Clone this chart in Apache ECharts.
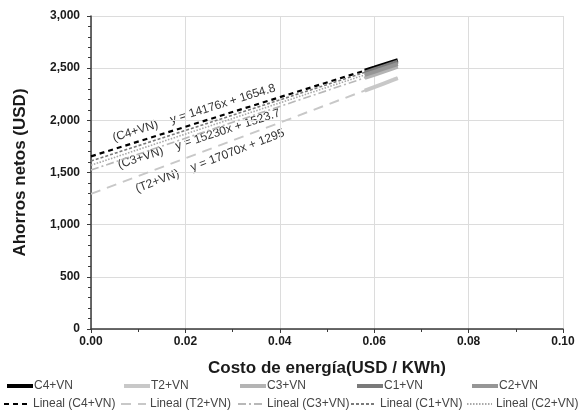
<!DOCTYPE html>
<html><head><meta charset="utf-8">
<script src="https://cdn.jsdelivr.net/npm/echarts@6/dist/echarts.min.js"></script>
<style>html,body{margin:0;padding:0;background:#fff}#c{width:588px;height:417px}</style>
</head><body><div id="c"></div>
<script>
// ---- data ----
const seriesNames = ['C4+VN', 'T2+VN', 'C3+VN', 'C1+VN', 'C2+VN'];
const xCost = [0.058, 0.060, 0.062, 0.064, 0.065];
const c4Values = [2477, 2505, 2534, 2562, 2576];
const t2Values = [2285, 2319, 2353, 2387, 2405];
const c3Values = [2407, 2437, 2468, 2498, 2514];
const c1Values = [2458, 2488, 2518, 2547, 2562];
const c2Values = [2435, 2465, 2495, 2525, 2540];
const trendX = [0, 0.065];
const trendC4 = [1654.8, 2576];
const trendT2 = [1295, 2405];
const trendC3 = [1523.7, 2514];
const trendC1 = [1610, 2562];
const trendC2 = [1570, 2540];
const trendLabels = ['(C4+VN)    y = 14176x + 1654.8', '(C3+VN)    y = 15230x + 1523.7', '(T2+VN)    y = 17070x + 1295'];
const xTicks = [0, 0.02, 0.04, 0.06, 0.08, 0.10];
const yTicks = [0, 500, 1000, 1500, 2000, 2500, 3000];

const pair = (xs, ys) => xs.map((x, i) => [x, ys[i]]);
const FONT = '"Liberation Sans", Arial, sans-serif';

const dataColors = ['#000000', '#c8c8c8', '#b4b4b4', '#7a7a7a', '#969696'];
const dataVals = [c4Values, t2Values, c3Values, c1Values, c2Values];
const trendVals = [trendC4, trendT2, trendC3, trendC1, trendC2];
const trendStyles = [
  {color: '#000000', width: 2.2, type: [5, 4]},
  {color: '#c8c8c8', width: 2, type: [10, 7]},
  {color: '#b8b8b8', width: 1.6, type: [8, 3, 2, 3]},
  {color: '#7a7a7a', width: 1.6, type: [3, 2]},
  {color: '#a8a8a8', width: 1.6, type: [1.5, 1.5]}
];

const series = [];
seriesNames.forEach((n, i) => {
  series.push({
    name: 'Lineal (' + n + ')', type: 'line', symbol: 'none', z: 2,
    data: pair(trendX, trendVals[i]), lineStyle: trendStyles[i], itemStyle: {color: trendStyles[i].color}
  });
});
seriesNames.forEach((n, i) => {
  series.push({
    name: n, type: 'line', symbol: 'none', z: 3,
    data: pair(xCost, dataVals[i]), lineStyle: {color: dataColors[i], width: 4}, itemStyle: {color: dataColors[i]}
  });
});

const legendRow1Left = [5, 122, 238, 355, 470];
const legendRow2Left = [3, 120, 237, 350, 466];
const legends = [];
seriesNames.forEach((n, i) => {
  legends.push({data: [n], left: legendRow1Left[i], top: 380, padding: 0, itemWidth: 26, itemHeight: 10, itemGap: 0,
    itemStyle: {opacity: 0}, lineStyle: {width: 4},
    textStyle: {fontFamily: FONT, fontSize: 12, color: '#454545', padding: [0, 0, 0, -4]}, selectedMode: false});
  legends.push({data: ['Lineal (' + n + ')'], left: legendRow2Left[i], top: 398, padding: 0, itemWidth: 25, itemHeight: 10, itemGap: 0,
    itemStyle: {opacity: 0},
    textStyle: {fontFamily: FONT, fontSize: 12, color: '#454545', padding: [0, 0, 0, -1]}, selectedMode: false});
});

const chart = echarts.init(document.getElementById('c'), null, {renderer: 'canvas'});
chart.setOption({
  animation: false,
  backgroundColor: '#ffffff',
  grid: {left: 91, right: 25, top: 16, bottom: 88, containLabel: false},
  legend: legends,
  xAxis: {
    type: 'value', min: xTicks[0], max: xTicks[xTicks.length - 1], interval: 0.02,
    name: 'Costo de energía(USD / KWh)', nameLocation: 'middle', nameGap: 31,
    nameTextStyle: {fontFamily: FONT, fontSize: 17, fontWeight: 'bold', color: '#1a1a1a'},
    axisLine: {lineStyle: {color: '#3a3a3a', width: 1.5}},
    axisTick: {show: true, length: 4, lineStyle: {color: '#3a3a3a'}},
    minorTick: {show: true, splitNumber: 2, length: 3, lineStyle: {color: '#3a3a3a'}},
    splitLine: {show: true, lineStyle: {color: '#dcdcdc', width: 1}},
    axisLabel: {fontFamily: FONT, fontSize: 12, fontWeight: 'bold', color: '#1a1a1a', margin: 7,
      formatter: v => v.toFixed(2)}
  },
  yAxis: {
    type: 'value', min: yTicks[0], max: yTicks[yTicks.length - 1], interval: 500,
    name: 'Ahorros netos (USD)', nameLocation: 'middle', nameGap: 62,
    nameTextStyle: {fontFamily: FONT, fontSize: 17, fontWeight: 'bold', color: '#1a1a1a'},
    axisLine: {show: true, lineStyle: {color: '#3a3a3a', width: 1.5}},
    axisTick: {show: true, length: 4, lineStyle: {color: '#3a3a3a'}},
    minorTick: {show: true, splitNumber: 5, length: 3, lineStyle: {color: '#3a3a3a'}},
    splitLine: {show: true, lineStyle: {color: '#dcdcdc', width: 1}},
    axisLabel: {fontFamily: FONT, fontSize: 12, fontWeight: 'bold', color: '#1a1a1a', margin: 11,
      formatter: v => v >= 1000 ? Math.floor(v / 1000) + ',' + String(v % 1000).padStart(3, '0') : String(v)}
  },
  graphic: [
    {type: 'text', x: 194, y: 113, rotation: 17.3 * Math.PI / 180,
      style: {text: trendLabels[0], fontFamily: FONT, fontSize: 12, fill: '#333', align: 'center', verticalAlign: 'middle'}},
    {type: 'text', x: 199, y: 139, rotation: 18 * Math.PI / 180,
      style: {text: trendLabels[1], fontFamily: FONT, fontSize: 12, fill: '#333', align: 'center', verticalAlign: 'middle'}},
    {type: 'text', x: 210, y: 161, rotation: 21 * Math.PI / 180,
      style: {text: trendLabels[2], fontFamily: FONT, fontSize: 12, fill: '#333', align: 'center', verticalAlign: 'middle'}}
  ],
  series: series
});
</script></body></html>
